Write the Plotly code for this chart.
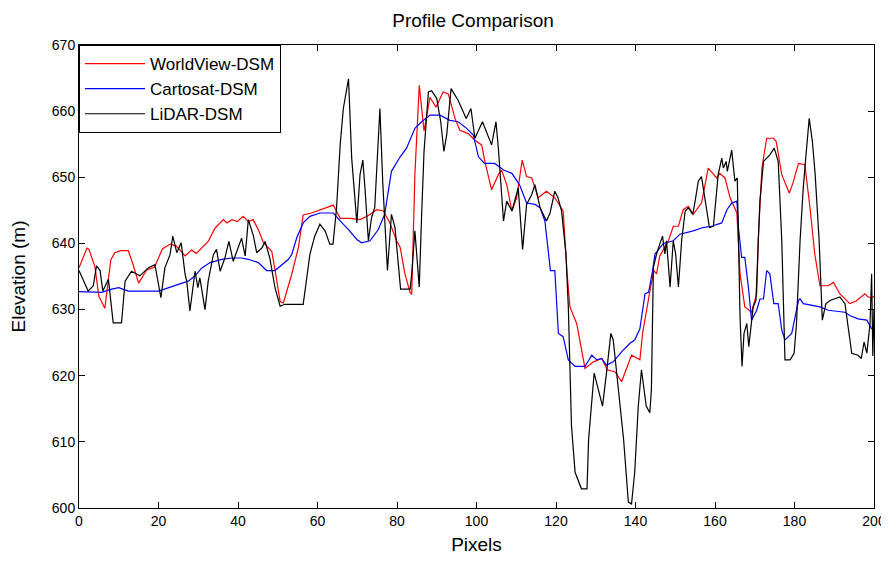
import plotly.graph_objects as go

# ---------------- data ----------------
wv_x = [0, 2, 2.5, 4, 5, 6.5, 8, 9, 10.5, 12.4, 13.5, 15, 17, 19, 21, 23, 24.5, 26.7, 28.3, 29.5,
        32.5, 34.2, 36.3, 37.2, 38.5, 39.8, 41.3, 42.6, 43.8, 45.1, 46.4, 48.5, 49.3, 50.6, 51.4,
        53.5, 55.2, 56.4, 58.5, 60.6, 63.1, 64, 65.7, 68.2, 70.7, 72.5, 74.9, 76.6, 78.2, 79.9,
        80.8, 82, 83.3, 83.7, 84.5, 85.6, 86.8, 88.3, 89.8, 91.6, 92.9, 94.6, 95.8, 97.9, 99.6,
        101.3, 102.1, 103.8, 105.5, 106.3, 107.6, 108.9, 110.1, 111.5, 112.6, 113.9, 115.5, 117.6,
        119.7, 121.8, 122.8, 123.5, 125.2, 127.3, 129.4, 131.5, 132.9, 134.8, 136.5, 139, 141.1,
        141.8, 143.8, 144.6, 145.3, 146.1, 148.3, 149.5, 150.8, 152, 153.3, 154.5, 156.6, 157.5,
        158.3, 160.4, 161.2, 162.5, 163.8, 165.5, 166.3, 167.5, 169.2, 170.5, 170.9, 171.8, 173,
        174.7, 175.4, 176.8, 178.7, 179.7, 181, 182.6, 183.9, 185.1, 186.4, 188.5, 189.8, 191.4,
        193.9, 195.5, 197.7, 198.5, 199.5, 200]
wv_y = [636.3, 639.3, 639.1, 636.5, 632, 630.2, 637.5, 638.6, 638.9, 638.9, 637, 634, 636, 636.4,
        639.2, 639.9, 639.6, 638.1, 639, 638.5, 640.3, 642.3, 643.6, 643.1, 643.6, 643.3, 644.1,
        643.3, 643.6, 642.1, 640.1, 638.8, 636, 631.2, 631, 635.3, 639.4, 644.3, 644.6, 645.1,
        645.6, 645.8, 643.8, 643.8, 643.6, 644.1, 645.1, 644.9, 643.1, 640.4, 639.4, 635.4, 632.6,
        632.3, 650.4, 663.9, 657, 662.1, 660.6, 662.9, 662.6, 658.9, 657.1, 656.6, 655.6, 654.9,
        652.4, 648.1, 650.4, 651.1, 648.9, 644.9, 646.9, 652.6, 650.1, 649.9, 646.9, 647.9, 646.9,
        644.9, 635.4, 630.4, 627.9, 621.1, 622.1, 622.6, 620.9, 620.6, 619.1, 623.1, 622.4, 626.5,
        633.4, 635.9, 635.4, 638.1, 640.4, 642.6, 642.6, 645.1, 645.6, 644.4, 646.1, 648.9, 651.4,
        649.9, 650.6, 649.9, 646.9, 644.6, 635.4, 630.4, 629.6, 632.4, 640.9, 651.4, 655.9, 655.9,
        655.4, 650.4, 647.6, 649.3, 652.1, 651.9, 645.4, 638.4, 633.6, 633.6, 634.1, 632.4, 630.9,
        631.3, 632.4, 631.9, 631.8, 632]

ca_x = [0, 3, 5.7, 8.2, 10, 12.4, 16, 20, 21.5, 23.3, 25, 27.5, 29.2, 30.9, 33, 35.9, 38.4, 40.9,
        42.6, 45.1, 47.2, 49.3, 50.6, 52.7, 53.5, 54.8, 56.4, 58.1, 60.6, 64, 65.7, 67.8, 69.9,
        71.1, 73.2, 75.3, 76.9, 78.6, 80.8, 82.4, 84.5, 86.2, 88.3, 90.8, 93.3, 95.4, 97.5, 99.2,
        100.5, 102, 104.6, 106.8, 108.9, 110.8, 112.6, 114.7, 116, 117.2, 118.6, 119.7, 120.6,
        121.8, 123.1, 124.8, 127.3, 129, 130.3, 131.5, 132.7, 134.4, 136.5, 138.6, 139.8, 141.1,
        142.4, 143.3, 144.3, 144.9, 147, 149.5, 151.2, 154.5, 157, 159.1, 161.7, 163, 164.2, 165.5,
        165.9, 166.7, 167.5, 168.4, 169.2, 170.5, 171.3, 172.2, 173, 173.8, 174.8, 175.9, 176.8,
        177.6, 179.3, 181, 181.4, 182.2, 186.4, 188.5, 192.7, 193.9, 196, 198.2, 199.4, 200]
ca_y = [632.7, 632.6, 632.6, 633.1, 633.3, 632.8, 632.8, 632.8, 633.1, 633.4, 633.8, 634.3, 635.1,
        636.3, 637.1, 637.6, 637.8, 637.8, 637.6, 637.1, 635.9, 635.9, 636.6, 637.6, 638.3, 640.9,
        643.1, 644.1, 644.6, 644.6, 643.4, 642.1, 640.6, 640.1, 640.4, 642.1, 644.4, 650.9, 653.1,
        654.4, 657.4, 658.4, 659.4, 659.4, 658.6, 658.4, 657.4, 656.4, 653.1, 652.1, 652.1, 651.1,
        650.6, 648.9, 646.1, 645.9, 645.4, 643.4, 635.9, 635.9, 626.4, 625.9, 622.4, 621.4, 621.4,
        623.1, 622.4, 622.6, 621.6, 622.1, 623.6, 624.9, 625.4, 627.1, 632.4, 632.6, 635.9, 638.4,
        640, 640.4, 641.4, 641.9, 642.4, 642.6, 643.1, 645.1, 646.1, 646.4, 642.4, 637.9, 637.9,
        633.4, 628.4, 629.9, 631.6, 631.6, 635.9, 635.4, 630.9, 630.9, 626.9, 625.4, 626.4, 631.4,
        631.6, 630.9, 630.4, 629.9, 629.6, 629.1, 628.6, 628.4, 627.1, 627.1]

li_x = [0, 2.3, 3.6, 4.4, 5.3, 6, 7.4, 7.8, 8.6, 10.7, 11.6, 13.2, 15.3, 17.4, 19.1, 20.6, 21.6,
        22.9, 23.6, 24.6, 25.7, 26.7, 27.1, 27.9, 28.8, 29.2, 29.9, 30.4, 31.7, 32.5, 33.8, 34.6,
        35.5, 36.7, 37.7, 38.8, 40.9, 41.8, 42.6, 43.9, 44.7, 46, 46.8, 48, 49.3, 50.6, 51.8, 56.4,
        58.1, 59.3, 60.6, 61.9, 63.1, 63.9, 64.8, 65.7, 66.5, 67.8, 68.6, 69.2, 69.9, 70.7, 71.4,
        72, 72.8, 73.6, 74.4, 75.7, 76.4, 77.6, 78.6, 79.5, 79.9, 80.9, 83.3, 83.7, 84.5, 85.6,
        86.2, 86.8, 87.9, 88.7, 90, 91, 91.8, 92.5, 93.6, 94.6, 95.4, 97.4, 98.6, 99.6, 101.5,
        103.8, 104.9, 105.5, 106.8, 107.6, 108.9, 110.5, 111.6, 112.6, 113.9, 114.7, 115.5, 116,
        117.6, 118.5, 119.7, 120.5, 121.4, 122.5, 123.1, 123.9, 124.8, 126.4, 127.8, 128.2, 129.6,
        131.7, 132.7, 133.8, 134.4, 135.7, 137, 138.2, 139, 139.8, 140.7, 141.5, 142.7, 143.6, 144,
        144.5, 145.3, 146.1, 146.8, 147.4, 147.8, 148.7, 149.5, 150.1, 150.8, 151.6, 152.5, 153.3,
        154.4, 155, 155.8, 156.6, 157.5, 158.6, 159.6, 160, 160.8, 161.7, 162.1, 162.8, 163.1,
        164.2, 165, 165.6, 165.9, 166.3, 166.8, 167.3, 168, 168.5, 169.6, 170.3, 171.3, 172.2,
        173.8, 174.9, 175.9, 176.8, 177.6, 178.9, 179.9, 180.5, 181.4, 182.2, 182.9, 183.7, 184.5,
        185.2, 186.2, 187, 187.9, 189.1, 191.4, 192.7, 194.4, 196, 196.8, 197.5, 198.2, 199, 199.4,
        199.7, 200]
li_y = [635.9, 632.8, 633.6, 636.6, 635.9, 632.8, 634.6, 632.3, 628, 628, 634.3, 635.8, 635.1,
        636.3, 636.8, 631.8, 636.3, 638.3, 641.1, 638.6, 640.1, 635.3, 634.3, 629.8, 634.3, 635.8,
        633.3, 634.8, 630, 634.3, 638.3, 639.1, 635.8, 637.8, 640.3, 637.3, 640.8, 638.1, 643.6,
        641.1, 638.6, 639.3, 640.3, 637.8, 633.3, 630.5, 630.8, 630.8, 638.4, 641.1, 642.9, 641.9,
        639.9, 639.9, 645.4, 654.9, 660.4, 664.9, 652.9, 647.9, 643.1, 650.4, 652.6, 647.9, 640.4,
        643.9, 645.4, 660.4, 649.4, 635.9, 644.4, 642.4, 639.4, 633.1, 633.1, 635.4, 641.9, 633.4,
        644.4, 653.9, 662.9, 663.1, 661.9, 658.4, 653.9, 656.4, 663.4, 662.4, 661.6, 658.9, 660.4,
        655.9, 658.4, 654.9, 658.4, 654.4, 643.4, 646.4, 644.9, 648.4, 639.1, 645.9, 647.4, 648.9,
        646.4, 645.4, 643.4, 644.6, 647.9, 646.9, 644.9, 638.4, 630.4, 612.4, 605.4, 602.9, 602.9,
        610.4, 620.4, 615.4, 620.4, 626.4, 625.4, 617.4, 610.4, 600.9, 600.6, 605.4, 615.4, 620.9,
        615.4, 614.4, 617.9, 636.4, 638.4, 639.9, 641.1, 638.4, 640.4, 633.4, 640.4, 638.4, 633.4,
        640.4, 644.9, 645.4, 644.4, 646.4, 649.4, 650.1, 646.4, 642.4, 642.6, 645.4, 650.4, 652.9,
        651.4, 652.4, 650.9, 654.1, 649.4, 649.9, 642.4, 628.9, 621.4, 626.4, 627.9, 624.4, 630.4,
        631.4, 646.4, 652.4, 653.4, 654.4, 652.4, 640.4, 622.4, 622.4, 623.4, 627.9, 640.4, 648.4,
        653.4, 658.9, 655.4, 650.4, 640.4, 628.4, 630.9, 631.4, 631.9, 630.9, 623.4, 623.1, 622.6,
        625.1, 623.4, 627.9, 635.4, 623, 630]

x_ticks = [0, 20, 40, 60, 80, 100, 120, 140, 160, 180, 200]
y_ticks = [600, 610, 620, 630, 640, 650, 660, 670]

# ---------------- figure ----------------
FONT = "Arial, Liberation Sans, sans-serif"
fig = go.Figure()
fig.add_trace(go.Scatter(x=wv_x, y=wv_y, mode="lines", name="WorldView-DSM",
                         line=dict(color="#ff0000", width=1.2)))
fig.add_trace(go.Scatter(x=ca_x, y=ca_y, mode="lines", name="Cartosat-DSM",
                         line=dict(color="#0000ff", width=1.2)))
fig.add_trace(go.Scatter(x=li_x, y=li_y, mode="lines", name="LiDAR-DSM",
                         line=dict(color="#000000", width=1.2)))

axis_common = dict(showline=True, linecolor="black", linewidth=1, mirror="ticks",
                   ticks="inside", ticklen=6, tickcolor="black", showgrid=False,
                   zeroline=False, automargin=False, ticklabeloverflow="allow",
                   tickfont=dict(family=FONT, size=14, color="black"))

fig.update_xaxes(range=[0, 200], tickvals=x_ticks,
                 title=dict(text="Pixels", font=dict(family=FONT, size=19, color="black"),
                            standoff=13),
                 **axis_common)
fig.update_yaxes(range=[600, 670], tickvals=y_ticks,
                 title=dict(text="Elevation (m)", font=dict(family=FONT, size=19, color="black"),
                            standoff=25),
                 **axis_common)

# page body has an 8px margin, so the figure is sized/offset to land where the reference is
fig.update_layout(
    width=881, height=547,
    margin=dict(l=71, r=15, t=37, b=47, autoexpand=False),
    paper_bgcolor="white", plot_bgcolor="white",
    title=dict(text="Profile Comparison", x=465 / 881, xanchor="center",
               y=1 - 12 / 547, yanchor="middle",
               font=dict(family=FONT, size=19, color="black")),
    showlegend=True,
    legend=dict(x=0, y=1, xanchor="left", yanchor="top", bgcolor="white",
                bordercolor="black", borderwidth=1,
                font=dict(family=FONT, size=17, color="black"),
                itemwidth=60, tracegroupgap=0),
)

fig.write_html("out.html")
